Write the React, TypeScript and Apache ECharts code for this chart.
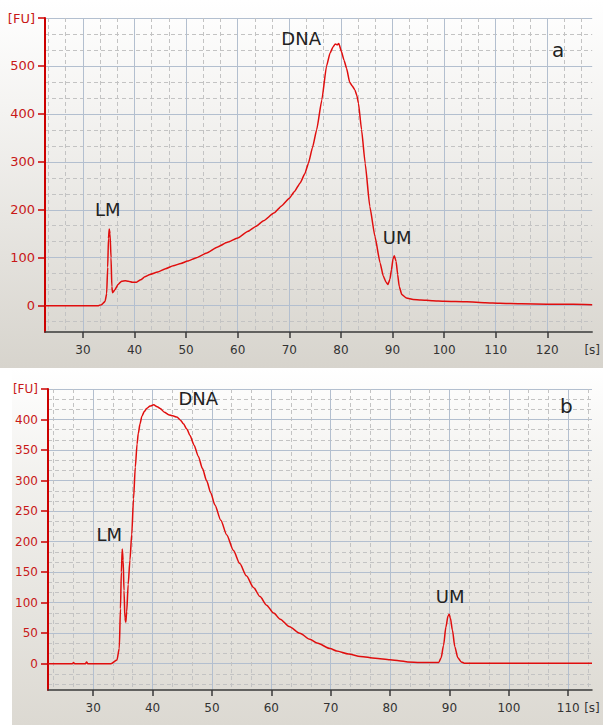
import React, { useEffect, useRef } from 'react';
import * as echarts from 'echarts';

// ---- Panel a data (time [s], fluorescence [FU]) ----
const timeA = [
  22.65, 30, 33, 33.6, 34.3, 34.6, 34.8, 34.95, 35.1, 35.25, 35.45, 35.6, 35.75, 36.2, 36.8, 37.5, 38.2, 38.8,
  39.6, 40.4, 41.2, 42.0, 43.0, 44.5, 46.0, 47.5, 49.0, 50.3, 52.0, 54.0, 56.0, 58.0, 60.0, 62.0, 63.5, 65.0,
  67.0, 68.5, 70.0, 71.0, 72.1, 73.0, 73.7, 74.5, 75.3, 76.3, 77.2, 77.9, 78.5, 78.9, 79.3, 79.6, 80.1, 80.6,
  81.1, 81.7, 82.2, 82.7, 83.1, 83.4, 84.0, 84.7, 85.6, 86.6, 87.6, 88.2, 88.7, 89.1, 89.5, 89.8, 90.1, 90.35,
  90.7, 91.0, 91.3, 91.8, 92.7, 94.0, 95.5, 97.8, 100, 104.4, 108, 110.8, 115, 120, 125, 128.7,
];
const fuA = [
  0, 0, 0, 2, 9, 25, 80, 140, 160, 150, 100, 40, 27, 33, 44, 51, 52, 51,
  49, 49, 54, 60, 65, 70, 77, 83, 88, 93, 100, 110, 122, 132, 141, 155, 165, 177,
  193, 208, 224, 238, 256, 275, 297, 330, 367, 429, 499, 527, 540, 546, 544, 547, 530, 512,
  495, 466, 458, 450, 438, 422, 367, 297, 207, 144, 89, 62, 50, 44, 55, 75, 98, 104,
  92, 65, 40, 23, 16, 13, 12, 10, 9, 8, 6, 5, 4, 3, 3, 2,
];

// ---- Panel b data ----
const timeB = [
  22.4, 26.5, 26.7, 26.9, 28.7, 28.9, 29.1, 33.0, 34.0, 34.4, 34.6, 34.75, 34.9, 35.05, 35.2, 35.35, 35.5, 35.65,
  35.9, 36.2, 36.5, 36.8, 37.1, 37.4, 37.6, 37.9, 38.2, 38.6, 39.0, 39.6, 40.2, 40.8, 41.3, 42.0, 42.7, 43.4,
  44.1, 44.7, 45.2, 45.8, 46.3, 47.0, 47.7, 48.4, 49.1, 49.8, 50.5, 51.5, 52.5, 53.6, 54.7, 55.8, 57.0, 58.1,
  59.2, 60.4, 61.5, 63.0, 64.8, 66.5, 67.7, 69.9, 71.0, 73.0, 75.0, 77.5, 80.0, 81.5, 83.0, 85.0, 88.2, 88.6,
  89.0, 89.4, 89.75, 89.95, 90.15, 90.5, 90.9, 91.4, 92.0, 92.5, 100, 114.0,
];
const fuB = [
  0, 0, 2, 0, 0, 3, 0, 0, 6, 25, 90, 150, 188, 170, 120, 75, 68, 85,
  130, 170, 212, 270, 322, 360, 377, 393, 405, 413, 418, 422, 424, 421, 418, 412, 408, 406,
  404, 399, 393, 384, 374, 358, 340, 320, 300, 280, 260, 235, 211, 186, 164, 144, 125, 110,
  96, 83, 73, 61, 50, 40, 34, 25, 21, 16, 12, 9, 6.5, 5, 3, 2, 2, 10,
  30, 60, 78, 81, 75, 55, 28, 10, 3, 1, 1, 1,
];

// ---- Axis ticks ----
const xTicksA = [30, 40, 50, 60, 70, 80, 90, 100, 110, 120];
const yTicksA = [0, 100, 200, 300, 400, 500, 600];
const xTicksB = [30, 40, 50, 60, 70, 80, 90, 100, 110];
const yTicksB = [0, 50, 100, 150, 200, 250, 300, 350, 400, 450];

// ---- Annotations (data coordinates) ----
const labelsA = [
  { text: 'LM', x: 34.8, y: 200, size: 18 },
  { text: 'DNA', x: 72.3, y: 558, size: 18 },
  { text: 'UM', x: 90.9, y: 142, size: 18 },
  { text: 'a', x: 122.1, y: 533, size: 20 },
];
const labelsB = [
  { text: 'LM', x: 32.7, y: 212, size: 18 },
  { text: 'DNA', x: 47.7, y: 435, size: 18 },
  { text: 'UM', x: 90.1, y: 110, size: 18 },
  { text: 'b', x: 109.7, y: 422, size: 20 },
];

const FONT = 'DejaVu Sans';
const MAJOR = '#b3bfcf';
const MINOR = '#c3c3c3';

function xAxis(gridIndex: number, min: number, max: number, ticks: number[]) {
  return {
    type: 'value',
    gridIndex,
    min,
    max,
    splitNumber: 10,
    minInterval: 10,
    maxInterval: 10,
    axisLine: { show: true, onZero: false, lineStyle: { color: '#3a3a3a', width: 1.5 } },
    axisTick: { show: true, customValues: ticks, length: 6, lineStyle: { color: '#3a3a3a', width: 1.5 } },
    axisLabel: {
      customValues: [...ticks, max],
      formatter: (v: number) => (Math.abs(v - max) < 1e-6 ? '[s]' : Math.abs(v % 10) < 1e-6 ? String(v) : ''),
      color: '#333',
      fontSize: 12,
      fontFamily: FONT,
      margin: 12,
    },
    splitLine: { show: true, lineStyle: { color: MAJOR, width: 1 } },
    minorTick: { show: false, splitNumber: 3 },
    minorSplitLine: { show: true, lineStyle: { color: MINOR, width: 1, type: [4, 3] } },
  };
}

function yAxis(gridIndex: number, min: number, max: number, step: number, ticks: number[], fontSize: number) {
  return {
    type: 'value',
    gridIndex,
    min,
    max,
    splitNumber: Math.round((max - min) / step),
    minInterval: step,
    maxInterval: step,
    axisLine: { show: true, onZero: false, lineStyle: { color: '#cc0000', width: 2 } },
    axisTick: { show: true, customValues: ticks, length: 7, lineStyle: { color: '#cc0000', width: 1.5 } },
    axisLabel: {
      customValues: ticks,
      formatter: (v: number) => (Math.abs(v - max) < 1e-6 ? '[FU]' : Math.abs(v % step) < 1e-6 ? String(v) : ''),
      color: '#c81818',
      fontSize,
      fontFamily: FONT,
      margin: 10,
    },
    splitLine: { show: true, lineStyle: { color: MAJOR, width: 1 } },
    minorTick: { show: false, splitNumber: 3 },
    minorSplitLine: { show: true, lineStyle: { color: MINOR, width: 1, type: [4, 3] } },
  };
}

function series(idx: number, xs: number[], ys: number[], labels: typeof labelsA, smooth: number) {
  return {
    type: 'line',
    xAxisIndex: idx,
    yAxisIndex: idx,
    data: xs.map((x, i) => [x, ys[i]]),
    showSymbol: false,
    symbol: 'none',
    smooth,
    smoothMonotone: 'x',
    lineStyle: { color: '#e00e0e', width: 1.5 },
    z: 5,
    markPoint: {
      symbol: 'circle',
      symbolSize: 0,
      silent: true,
      itemStyle: { color: 'transparent' },
      data: labels.map((l) => ({
        coord: [l.x, l.y],
        name: l.text,
        label: {
          show: true,
          position: 'inside',
          formatter: l.text,
          fontSize: l.size,
          fontFamily: FONT,
          color: '#222',
        },
      })),
    },
  };
}

export default function App() {
  const ref = useRef<HTMLDivElement>(null);
  useEffect(() => {
    document.body.style.margin = '0';
    const chart = echarts.init(ref.current as HTMLDivElement, null, { renderer: 'svg' });
    chart.setOption({
      animation: false,
      grid: [
        { left: 45, top: 18, width: 548, height: 314 },
        { left: 48, top: 389, width: 544, height: 301 },
      ],
      xAxis: [xAxis(0, 22.65, 128.7, xTicksA), xAxis(1, 22.4, 114, xTicksB)],
      yAxis: [yAxis(0, -55, 600, 100, yTicksA, 13), yAxis(1, -43, 450, 50, yTicksB, 12)],
      series: [series(0, timeA, fuA, labelsA, 0.15), series(1, timeB, fuB, labelsB, 0.25)],
    });
    return () => chart.dispose();
  }, []);
  return (
    <div style={{ position: 'relative', width: 603, height: 725, overflow: 'hidden', background: '#ffffff' }}>
      <div
        style={{
          position: 'absolute', left: 0, top: 0, width: 603, height: 368,
          background: 'linear-gradient(#ffffff 0%, #f4f3f1 30%, #d7d4cd 100%)',
        }}
      />
      <div
        style={{
          position: 'absolute', left: 12, top: 369, width: 591, height: 356,
          background: 'linear-gradient(#ffffff 0%, #f2f1ee 30%, #dcd9d2 100%)',
        }}
      />
      <div ref={ref} style={{ position: 'absolute', left: 0, top: 0, width: 603, height: 725 }} />
    </div>
  );
}
